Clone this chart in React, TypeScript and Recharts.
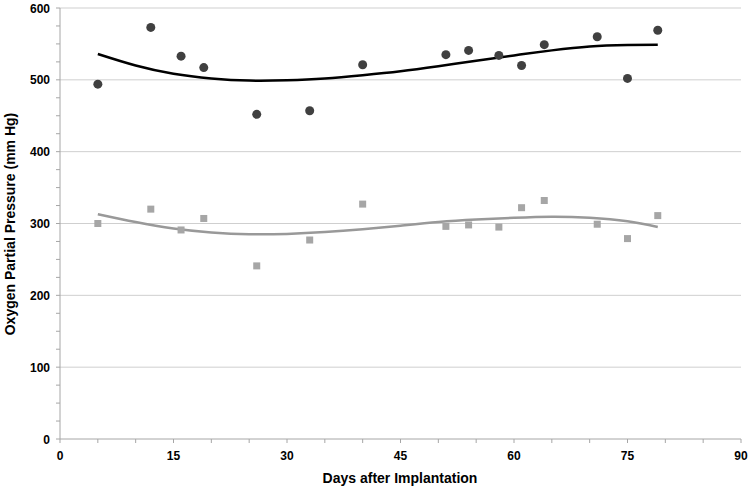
import React from 'react';
import { ComposedChart, XAxis, YAxis, Scatter, Line, ReferenceLine } from 'recharts';

const days = [5, 12, 16, 19, 26, 33, 40, 51, 54, 58, 61, 64, 71, 75, 79];
const circleValues = [494, 573, 533, 517, 452, 457, 521, 535, 541, 534, 520, 549, 560, 502, 569];
const squareValues = [300, 320, 291, 307, 241, 277, 327, 296, 298, 295, 322, 332, 299, 279, 311];

const trendDays = [5, 10, 15, 20, 25, 30, 35, 40, 45, 50, 55, 60, 65, 70, 75, 79];
const circleTrend = [536, 520, 508.5, 502, 499, 499.5, 502, 506.5, 512, 519, 526.5, 534, 541, 546.5, 548.5, 549];
const squareTrend = [313, 302, 293, 287.5, 285, 285.5, 288, 292, 297, 302, 305.5, 308, 309.5, 308, 303, 295];

const xTicks = [0, 5, 10, 15, 20, 25, 30, 35, 40, 45, 50, 55, 60, 65, 70, 75, 80, 85, 90];
const yTicks = [0, 25, 50, 75, 100, 125, 150, 175, 200, 225, 250, 275, 300, 325, 350, 375, 400, 425, 450, 475, 500, 525, 550, 575, 600];
const gridValues = [100, 200, 300, 400, 500, 600];

const circleData = days.map((d, i) => ({ x: d, y: circleValues[i] }));
const squareData = days.map((d, i) => ({ x: d, y: squareValues[i] }));
const circleTrendData = trendDays.map((d, i) => ({ x: d, y: circleTrend[i] }));
const squareTrendData = trendDays.map((d, i) => ({ x: d, y: squareTrend[i] }));

const FONT = '"Liberation Sans", Arial, sans-serif';
const AXIS = '#a6a6a6';
const GRID = '#cfcfcf';

const YTick = (props: any) => {
  const { x, y, payload } = props;
  if (payload.value % 100 !== 0) return null;
  return (
    <text x={x} y={y} dy={4.5} textAnchor="end" fontFamily={FONT} fontSize={12} fontWeight="bold" fill="#000">
      {payload.value}
    </text>
  );
};

const XTick = (props: any) => {
  const { x, y, payload } = props;
  if (payload.value % 15 !== 0) return null;
  return (
    <text x={x} y={y} dy={12.5} textAnchor="middle" fontFamily={FONT} fontSize={12} fontWeight="bold" fill="#000">
      {payload.value}
    </text>
  );
};

const CircleShape = (props: any) => <circle cx={props.cx} cy={props.cy} r={4.5} fill="#404040" />;
const SquareShape = (props: any) => <rect x={props.cx - 3.5} y={props.cy - 3.5} width={7} height={7} fill="#a6a6a6" />;

export default function App() {
  return (
    <div style={{ position: 'absolute', left: 0, top: 0, width: 748, height: 489, background: '#fff' }}>
      <ComposedChart width={748} height={489} margin={{ top: 8, right: 7, left: 0, bottom: 0 }}>
        <XAxis
          type="number"
          dataKey="x"
          domain={[0, 90]}
          ticks={xTicks}
          interval={0}
          allowDataOverflow
          height={50}
          stroke={AXIS}
          tickSize={4}
          tickMargin={4}
          tickLine={{ stroke: AXIS }}
          tick={<XTick />}
        />
        <YAxis
          type="number"
          dataKey="y"
          domain={[0, 600]}
          ticks={yTicks}
          interval={0}
          allowDataOverflow
          width={60}
          stroke={AXIS}
          tickSize={4}
          tickMargin={6}
          tickLine={{ stroke: AXIS }}
          tick={<YTick />}
        />
        {gridValues.map((v) => (
          <ReferenceLine key={v} y={v} stroke={GRID} strokeWidth={1} ifOverflow="extendDomain" />
        ))}
        <Line
          data={squareTrendData}
          dataKey="y"
          type="natural"
          stroke="#999999"
          strokeWidth={2.5}
          dot={false}
          activeDot={false}
          isAnimationActive={false}
        />
        <Line
          data={circleTrendData}
          dataKey="y"
          type="natural"
          stroke="#000000"
          strokeWidth={2.5}
          dot={false}
          activeDot={false}
          isAnimationActive={false}
        />
        <Scatter data={squareData} dataKey="y" shape={<SquareShape />} isAnimationActive={false} />
        <Scatter data={circleData} dataKey="y" shape={<CircleShape />} isAnimationActive={false} />
      </ComposedChart>
      <svg width={748} height={489} style={{ position: 'absolute', left: 0, top: 0, pointerEvents: 'none' }}>
        <text x={400} y={483} textAnchor="middle" fontFamily={FONT} fontSize={14} fontWeight="bold" fill="#000">
          Days after Implantation
        </text>
        <text
          x={0}
          y={0}
          transform="translate(15, 224) rotate(-90)"
          textAnchor="middle"
          fontFamily={FONT}
          fontSize={14}
          fontWeight="bold"
          fill="#000"
        >
          Oxygen Partial Pressure (mm Hg)
        </text>
      </svg>
    </div>
  );
}
